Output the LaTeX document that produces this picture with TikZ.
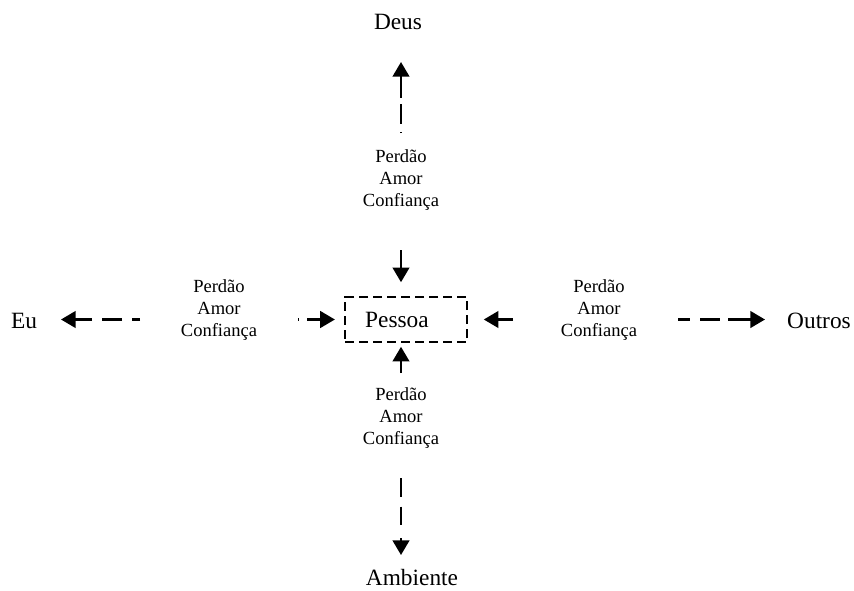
\documentclass[tikz,border=0pt]{standalone}
\usepackage{fontspec}
\setmainfont{Liberation Serif}
\usetikzlibrary{arrows.meta}
\begin{document}
\begin{tikzpicture}[x=0.75pt,y=-0.75pt,
  big/.style={font=\fontsize{17.5}{21}\selectfont, inner sep=0pt},
  lbl/.style={font=\fontsize{13.9}{16.5}\selectfont, align=center, inner sep=0pt},
  link/.style={line width=1.7pt, -{Triangle[length=11pt,width=12.5pt]}},
]
\useasboundingbox (0,0) rectangle (854,590);

% outer targets
\node[big] (deus)     at (398,22)  {Deus};
\node[big] (eu)       at (24,321)  {Eu};
\node[big] (outros)   at (819,321) {Outros};
\node[big] (ambiente) at (412,578) {Ambiente};

% central box
\node[draw, line width=1.2pt, dash pattern=on 7pt off 3.5pt,
      minimum width=91.5pt, minimum height=33.75pt, inner sep=0pt] (box) at (406,319.5) {};
\node[big] (pessoa) at (397,320) {Pessoa};

% labels on the four sides
\node[lbl] (topLbl)   at (401,180) {Perdão\\Amor\\Confiança};
\node[lbl] (botLbl)   at (401,418) {Perdão\\Amor\\Confiança};
\node[lbl] (leftLbl)  at (219,310) {Perdão\\Amor\\Confiança};
\node[lbl] (rightLbl) at (599,310) {Perdão\\Amor\\Confiança};

% arrows into the box
\draw[link, shorten <=52.5pt, shorten >=10.5pt] (topLbl.center) -- (topLbl.center |- box.north);
\draw[link, shorten <=33.75pt, shorten >=3pt] (botLbl.center) -- (botLbl.center |- box.south);
\draw[link, dash pattern=on 1pt off 6pt on 40pt, shorten <=59.25pt, shorten >=7pt]
  (leftLbl.center |- box.center) -- (box.west);
\draw[link, shorten <=64.5pt, shorten >=12pt] (rightLbl.center |- box.center) -- (box.east);

% dashed arrows outwards
\draw[link, dash pattern=on 1pt off 6pt on 15pt off 4.5pt on 40pt, shorten <=35.25pt, shorten >=30pt]
  (topLbl.center) -- (topLbl.center |- deus.center);
\draw[link, dash pattern=on 14pt off 7.5pt on 13.5pt off 10pt on 40pt, shorten <=45pt, shorten >=17.25pt]
  (botLbl.center) -- (botLbl.center |- ambiente.center);
\draw[link, dash pattern=on 6pt off 7.5pt on 15pt off 7.5pt on 40pt, shorten <=59.25pt, shorten >=27.75pt]
  (leftLbl.center |- box.center) -- (eu.center |- box.center);
\draw[link, dash pattern=on 9pt off 7.5pt on 15pt off 6pt on 40pt, shorten <=59.25pt, shorten >=40.5pt]
  (rightLbl.center |- box.center) -- (outros.center |- box.center);
\end{tikzpicture}
\end{document}
